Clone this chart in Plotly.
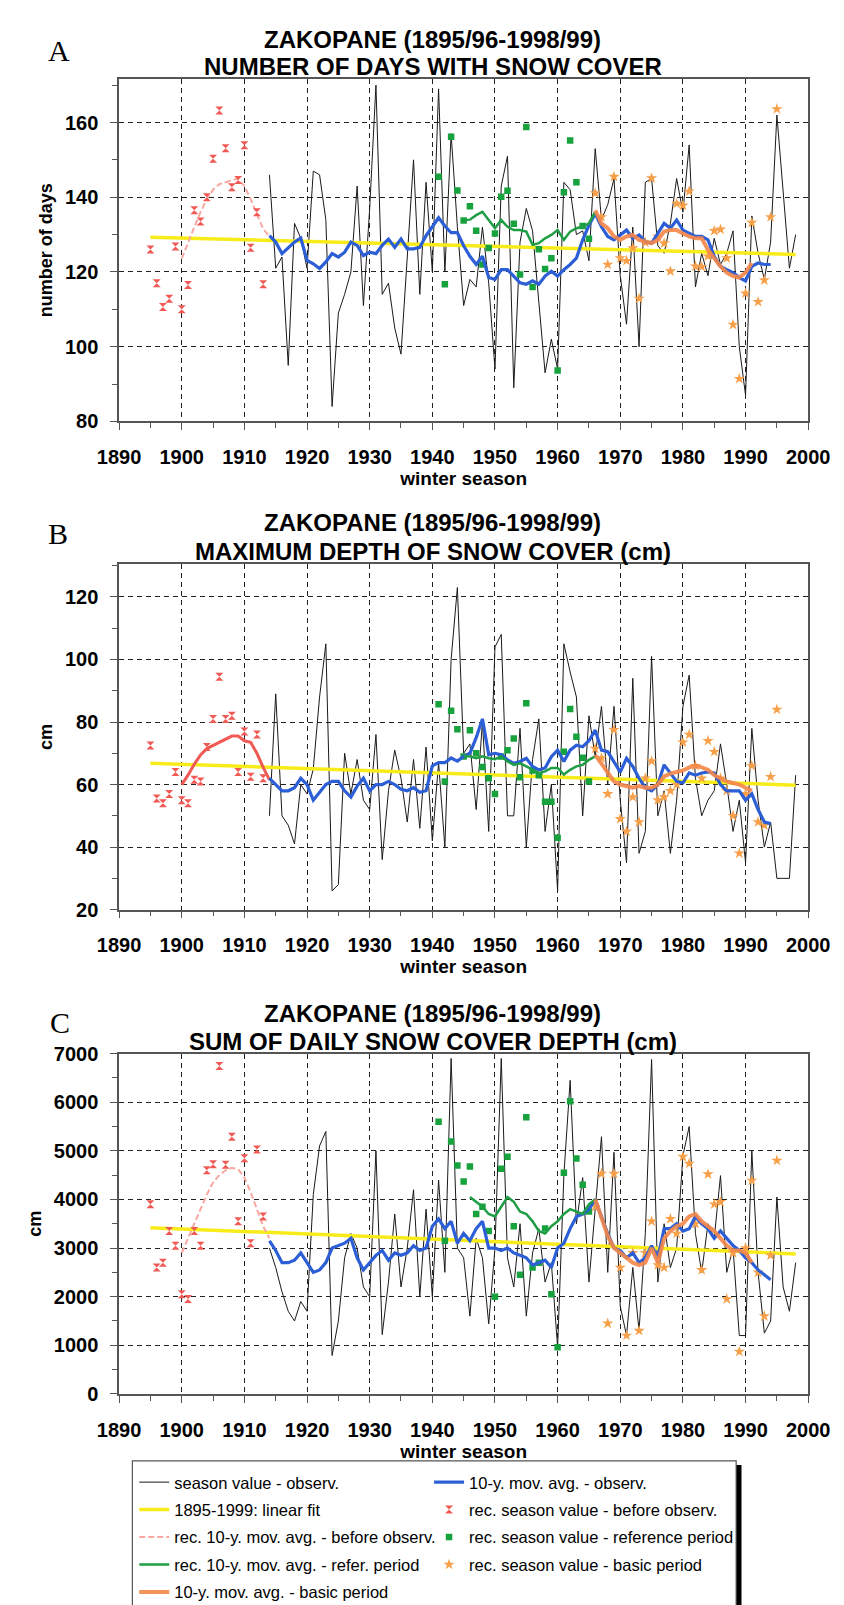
import plotly.graph_objects as go

# ---------------- categories (winter seasons) ----------------
yr_rec = list(range(1895, 1914))        # reconstructed before observations
yr_rec_ma = list(range(1900, 1915))
yr_obs = list(range(1914, 1999))        # observations
yr_obs_ma = list(range(1914, 1995))
yr_ref = list(range(1941, 1966))        # reference period
yr_ref_ma_ab = list(range(1945, 1967))
yr_ref_ma_c = list(range(1946, 1967))
yr_basic = list(range(1966, 1996))      # basic period
yr_basic_ma = list(range(1966, 1992))
yr_fit = [1895, 1998]

# ---------------- A: number of days with snow cover ----------------
A_rec = [126.0, 117.0, 110.6, 112.8, 126.8, 110.0, 116.5, 136.5, 133.5, 140.0,
         150.3, 163.2, 153.1, 142.7, 144.6, 153.9, 126.5, 136.0, 116.7]
A_rec_ma = [123.6, 128, 132, 136, 139.5, 142, 143.5, 144, 144.5, 145, 143, 139.5,
            135.5, 131.5, 129.5]
A_obs = [146, 121, 124, 95, 133, 129, 121, 147, 146, 134,
         84, 109, 114, 120, 143, 111, 137, 170, 114, 117,
         105, 98, 124, 150, 114, 144, 120, 169, 120, 157,
         132, 111, 118, 116, 132, 117, 94, 143, 151, 89,
         128, 137, 131, 112, 93, 102, 94, 144, 142, 130,
         131, 123, 153, 134, 138, 145, 119, 106, 132, 100,
         144, 145, 127, 125, 133, 145, 136, 154, 116, 125,
         119, 129, 122, 125, 131, 100, 87, 135, 125, 118,
         128, 162, 142, 121, 130]
A_obs_ma = [129.7, 128, 124.9, 126.6, 128, 129.1, 123.1, 122.2, 120.9, 122.7,
            124.9, 124, 125.3, 128, 127.1, 124.4, 125.3, 124.9, 127.1, 128.8,
            126.6, 128.8, 126.2, 126.2, 126.6, 129.7, 132.3, 134.5, 132.3, 130.5,
            130.5, 127, 124.2, 122, 124.2, 118.5, 118, 120.6, 120.6, 118.9,
            117.1, 116.7, 117.6, 116.7, 118.9, 120.2, 118.9, 120.6, 122, 123.7,
            128.6, 132.5, 135.6, 132.1, 129.5, 128.6, 129.9, 131.2, 129, 129.9,
            128.1, 127.7, 130.3, 133, 131.7, 133.9, 131.2, 130.3, 129.5, 129.5,
            128.6, 124.2, 121.5, 120.6, 119.8, 118.5, 117.6, 121.5, 122.4, 122, 122]
A_ref = [145.5, 116.7, 156.2, 141.8, 133.8, 137.6, 131, 122, 126.4, 130.3,
         140.1, 141.7, 132.9, 119.3, 158.8, 116, 126.1, 120.8, 123.7, 93.6,
         141.3, 155.2, 144, 132.3, 128.9]
A_ref_ma = [133.9, 134, 135.2, 136.1, 133.9, 131.7, 133.9, 132.1, 131.2, 131.2,
            130.8, 127.3, 127.7, 129, 129.9, 131.2, 128.6, 130.8, 131.7, 132.1,
            133, 136.1]
A_basic = [141.1, 134.7, 122, 145.5, 123.7, 123, 126.4, 112.9, 127.9, 145.1,
           129.5, 127.7, 120.2, 138.3, 137.8, 141.6, 121.5, 121.4, 124.2, 131,
           131.4, 123.7, 105.9, 91.4, 114.3, 133.2, 112, 117.8, 134.7, 163.6]
A_basic_ma = [136.5, 133, 131.7, 129.5, 128.6, 129.5, 129.9, 128.6, 128.1, 127.7,
              128.6, 130.8, 131.2, 131.2, 130.3, 129.5, 129, 129, 125.9, 123.7,
              121.5, 119.8, 118.9, 118.5, 119.8, 122.4]
A_fit = [129.3, 124.7]

# ---------------- B: maximum depth of snow cover ----------------
B_rec = [72.5, 55.5, 54, 57, 64, 55, 54, 61.5, 61, 72, 81, 94.5, 81, 82, 64, 77,
         62.5, 76, 62]
B_rec_ma = [60, 63, 66.5, 69.5, 71.5, 72.5, 73.5, 74.5, 75.5, 75.5, 74, 73.5, 70,
            65.5, 61.5]
B_obs = [50, 89, 50, 47, 41, 60, 57, 65, 88, 105,
         26, 28, 70, 57, 68, 55, 52, 76, 36, 58,
         71, 62, 48, 68, 46, 72, 42, 67, 40, 100,
         123, 70, 73, 52, 80, 45, 104, 108, 50, 50,
         78, 40, 68, 81, 45, 60, 26, 105, 96, 88,
         50, 82, 69, 85, 60, 85, 55, 35, 94, 38,
         45, 101, 50, 58, 38, 55, 85, 95, 62, 50,
         55, 58, 73, 60, 45, 55, 35, 78, 55, 40,
         48, 30, 30, 30, 63]
B_obs_ma = [62, 60, 58, 58, 59, 62, 60, 55, 57.5, 60,
            61, 61, 58, 56, 59.5, 62, 58, 60, 60, 61,
            60, 58.5, 58, 59, 57.5, 58, 66, 67, 67, 68.5,
            67.5, 69, 70, 75, 81, 69.5, 70, 69.5, 67.9, 66.8,
            67.4, 68.4, 65.8, 64.7, 65.3, 68.9, 71, 67.4, 71, 72.6,
            72.1, 74, 77.4, 71, 70.5, 67.4, 64, 68.4, 65.8, 62,
            59, 58, 60, 66.3, 63.7, 61, 60.5, 63.7, 63, 63.7,
            64, 63.7, 60, 58, 58, 58, 55, 57, 52, 48, 47.5]
B_ref = [85.7, 61, 83.6, 77.7, 69, 77.4, 70, 65.6, 62, 57, 69, 71, 74.7, 62.3, 86,
         64.5, 63, 54.5, 54.5, 43, 70.5, 84.2, 75.3, 68.6, 61]
B_ref_ma = [69.2, 69, 68.4, 69, 68.4, 68.1, 69, 67.4, 66.3, 66.8, 65.8, 64.7, 63.7,
            64.2, 65.3, 65.3, 63.2, 64.7, 65.8, 66.3, 67.9, 69]
B_basic = [71.5, 68.5, 57, 77.5, 49, 45, 56, 48, 62, 67.5, 55, 56, 58, 60, 73.5, 76,
           66, 62, 74, 70.5, 62, 58, 50, 38, 57, 66, 48, 47, 62.5, 84]
B_basic_ma = [69.5, 66.8, 63.7, 61, 60, 59.5, 59, 59.5, 59, 59, 60, 62.6, 63.5, 64,
              64.5, 65.5, 66, 65.5, 64.7, 63, 62, 61, 60.5, 60, 59, 58]
B_fit = [66.8, 59.8]

# ---------------- C: sum of daily snow cover depth ----------------
C_rec = [3900, 2600, 2700, 3350, 3050, 2050, 1950, 3350, 3050, 4600, 4725, 6746,
         4712, 5288, 3550, 4847, 3100, 5030, 3650]
C_rec_ma = [2900, 3200, 3500, 3800, 4100, 4350, 4500, 4600, 4650, 4620, 4450, 4150,
            3800, 3450, 3200]
C_obs = [3000, 2600, 2100, 1700, 1500, 1900, 1700, 4100, 5100, 5400,
         790, 1500, 2800, 3300, 3000, 2200, 2000, 5000, 1220, 2300,
         3700, 2200, 3000, 4200, 2000, 3800, 2000, 4400, 2500, 6900,
         3000, 2800, 1600, 3200, 2800, 1440, 3000, 6900, 2800, 2200,
         3500, 1600, 2900, 3400, 2300, 2700, 960, 4500, 6450, 3500,
         4450, 2300, 3800, 5290, 2500, 4970, 1800, 1200, 2600, 1300,
         3300, 6880, 2300, 3500, 2600, 3000, 4900, 5500, 3300, 2500,
         3500, 3200, 4490, 2500, 3000, 1200, 1200, 5000, 2500, 1250,
         1500, 4050, 2200, 1700, 2700]
C_obs_ma = [3150, 2950, 2700, 2700, 2750, 2900, 2700, 2500, 2550, 2700,
            3000, 3050, 3100, 3200, 2800, 2550, 2700, 2850, 2950, 2750,
            2900, 2850, 2900, 3050, 2950, 3000, 3450, 3600, 3400, 3550,
            3100, 3300, 3150, 3400, 3550, 3000, 3000, 2950, 3000, 2900,
            2850, 2800, 2650, 2700, 2750, 2600, 3000, 3100, 3400, 3650,
            3700, 3800, 4000, 3650, 3300, 3000, 2950, 2800, 2900, 2700,
            2800, 3050, 2800, 3400, 3400, 3500, 3350, 3400, 3650, 3500,
            3400, 3200, 3350, 3200, 3050, 2950, 2800, 2700, 2550, 2450, 2350]
C_ref = [5600, 3150, 5190, 4700, 4370, 4680, 3700, 3850, 3350, 2000, 4630, 4880,
         3450, 2450, 5690, 2600, 2700, 3400, 2050, 960, 4550, 6020, 4840, 4300, 3750]
C_ref_ma = [4050, 3950, 3850, 3700, 3650, 3850, 4050, 3950, 3750, 3700, 3550, 3350,
            3300, 3450, 3550, 3700, 3800, 3750, 3700, 3900, 4000]
C_basic = [3850, 4530, 1450, 4530, 2600, 1200, 2900, 1300, 2900, 3550, 2650, 2600,
           3600, 3300, 4880, 4740, 3500, 2550, 4520, 3900, 3950, 1950, 2900, 870,
           3000, 4390, 2500, 1600, 2850, 4800]
C_basic_ma = [4000, 3650, 3250, 3000, 2900, 2800, 2700, 2650, 2700, 3000, 2700, 3200,
              3350, 3450, 3500, 3650, 3700, 3550, 3450, 3350, 3200, 3050, 2950, 2950,
              2900, 2700]
C_fit = [3420, 2880]

# ---------------- text ----------------
title_line1 = "ZAKOPANE (1895/96-1998/99)"
panel_titles = ["NUMBER OF DAYS WITH SNOW COVER",
                "MAXIMUM DEPTH OF SNOW COVER (cm)",
                "SUM OF DAILY SNOW COVER DEPTH (cm)"]
panel_letters = ["A", "B", "C"]
y_titles = ["number of days", "cm", "cm"]
x_title = "winter season"

# ---------------- styling ----------------
W, H = 844, 1605
C_BLACK = "#1a1a1a"
C_YELLOW = "#F7EC1A"
C_BLUE = "#2C5FD6"
C_GREEN = "#1F9E45"
C_GREEN_SQ = "#17A23E"
C_ORANGE = "#F4874B"
C_ORANGE_PT = "#F7A049"
C_RED = "#F05A55"
C_RED_DASH = "#F7A8A0"
FONT = "Liberation Sans, Arial, sans-serif"


def px_x(x):
    return x / W


def px_y(y):
    return (H - y) / H


x_dom = [px_x(94), px_x(821)]
y_doms = [[px_y(408), px_y(61)], [px_y(903), px_y(553)], [px_y(1394), px_y(1049)]]
y_ranges = [[80, 171.6], [20, 130.4], [0, 7000]]
y_dticks = [20, 20, 1000]
y_minor = [10, 10, 500]

fig = go.Figure()

panels = [
    dict(rec=A_rec, rec_ma=A_rec_ma, obs=A_obs, obs_ma=A_obs_ma, ref=A_ref,
         ref_ma=A_ref_ma, ref_ma_yr=yr_ref_ma_ab, basic=A_basic, basic_ma=A_basic_ma,
         fit=A_fit, rec_dash=True),
    dict(rec=B_rec, rec_ma=B_rec_ma, obs=B_obs, obs_ma=B_obs_ma, ref=B_ref,
         ref_ma=B_ref_ma, ref_ma_yr=yr_ref_ma_ab, basic=B_basic, basic_ma=B_basic_ma,
         fit=B_fit, rec_dash=False),
    dict(rec=C_rec, rec_ma=C_rec_ma, obs=C_obs, obs_ma=C_obs_ma, ref=C_ref,
         ref_ma=C_ref_ma, ref_ma_yr=yr_ref_ma_c, basic=C_basic, basic_ma=C_basic_ma,
         fit=C_fit, rec_dash=True),
]

# left legend column -> "legend", right legend column -> "legend2"
for i, p in enumerate(panels):
    xa = "x" if i == 0 else f"x{i+1}"
    ya = "y" if i == 0 else f"y{i+1}"
    leg = (i == 0)

    def add(tr, group, legend, rank):
        tr.update(xaxis=xa, yaxis=ya, showlegend=leg, hoverinfo="skip",
                  legendgroup=group, legend=legend, legendrank=rank)
        fig.add_trace(tr)

    add(go.Scatter(x=yr_obs, y=p["obs"], mode="lines",
                   line=dict(color=C_BLACK, width=1),
                   name="season value - observ."), "g1", "legend", 1)
    add(go.Scatter(x=yr_fit, y=p["fit"], mode="lines",
                   line=dict(color=C_YELLOW, width=3.5),
                   name="1895-1999: linear fit"), "g2", "legend", 2)
    if p["rec_dash"]:
        rl = dict(color=C_RED_DASH, width=2, dash="6px,3px")
    else:
        rl = dict(color=C_RED, width=3)
    add(go.Scatter(x=yr_rec_ma, y=p["rec_ma"], mode="lines", line=rl,
                   name="rec. 10-y. mov. avg. - before observ."), "g3", "legend", 3)
    add(go.Scatter(x=yr_rec, y=p["rec"], mode="markers",
                   marker=dict(symbol="hourglass", size=8, color=C_RED),
                   name="rec. season value - before observ."), "g7", "legend2", 7)
    add(go.Scatter(x=yr_ref, y=p["ref"], mode="markers",
                   marker=dict(symbol="square", size=6.5, color=C_GREEN_SQ),
                   name="rec. season value - reference period"), "g8", "legend2", 8)
    add(go.Scatter(x=yr_basic, y=p["basic"], mode="markers",
                   marker=dict(symbol="star", size=8.5, color=C_ORANGE_PT),
                   name="rec. season value - basic period"), "g9", "legend2", 9)
    add(go.Scatter(x=yr_obs_ma, y=p["obs_ma"], mode="lines",
                   line=dict(color=C_BLUE, width=3.2),
                   name="10-y. mov. avg. - observ."), "g6", "legend2", 6)
    add(go.Scatter(x=p["ref_ma_yr"], y=p["ref_ma"], mode="lines",
                   line=dict(color=C_GREEN, width=2.5),
                   name="rec. 10-y. mov. avg. - refer. period"), "g4", "legend", 4)
    add(go.Scatter(x=yr_basic_ma, y=p["basic_ma"], mode="lines",
                   line=dict(color=C_ORANGE, width=4), opacity=0.9,
                   name="10-y. mov. avg. - basic period"), "g5", "legend", 5)

axis_line = "#555555"
tickfont = dict(family=FONT, size=20, color="black", weight="bold")
leg_common = dict(orientation="v", yanchor="top", xanchor="left",
                  bgcolor="rgba(0,0,0,0)", borderwidth=0,
                  font=dict(family=FONT, size=16.5, color="black"),
                  itemwidth=30, traceorder="grouped", tracegroupgap=3)
layout = dict(
    width=W, height=H,
    margin=dict(l=0, r=0, t=0, b=0),
    paper_bgcolor="white", plot_bgcolor="white",
    font=dict(family=FONT, color="black"),
    showlegend=True,
    legend=dict(x=px_x(110), y=px_y(1466), **leg_common),
    legend2=dict(x=px_x(421), y=px_y(1466), **leg_common),
)

for i in range(3):
    xk = "xaxis" if i == 0 else f"xaxis{i+1}"
    yk = "yaxis" if i == 0 else f"yaxis{i+1}"
    ya = "y" if i == 0 else f"y{i+1}"
    xa = "x" if i == 0 else f"x{i+1}"
    layout[xk] = dict(domain=x_dom, anchor=ya, range=[1890, 2000], tick0=1890, dtick=10,
                      showgrid=True, gridcolor="#222", griddash="5px,4px", gridwidth=1,
                      zeroline=False, showline=True, linecolor=axis_line, linewidth=1.5,
                      mirror=True, ticks="outside", ticklen=7, tickcolor=axis_line,
                      tickfont=tickfont, ticklabelstandoff=10,
                      minor=dict(dtick=5, ticks="outside", ticklen=5, tickcolor=axis_line,
                                 showgrid=False),
                      title=dict(text=x_title, standoff=2,
                                 font=dict(family=FONT, size=19, color="black", weight="bold")))
    layout[yk] = dict(domain=y_doms[i], anchor=xa, range=y_ranges[i],
                      tick0=y_ranges[i][0] if i < 2 else 0, dtick=y_dticks[i],
                      showgrid=True, gridcolor="#222", griddash="5px,4px", gridwidth=1,
                      zeroline=False, showline=True, linecolor=axis_line, linewidth=1.5,
                      mirror=True, ticks="outside", ticklen=7, tickcolor=axis_line,
                      tickfont=tickfont, ticklabelstandoff=8,
                      minor=dict(dtick=y_minor[i], ticks="outside", ticklen=5,
                                 tickcolor=axis_line, showgrid=False),
                      title=dict(text=y_titles[i], standoff=8,
                                 font=dict(family=FONT, size=18, color="black", weight="bold")))

fig.update_layout(**layout)

# titles and panel letters
title_y = [(21, 48), (511, 540), (1008, 1037)]
letter_pos = [(31, 32), (30, 522), (32, 1017)]
ann = []
for i in range(3):
    ann.append(dict(text=title_line1, x=px_x(425), y=px_y(title_y[i][0]), xref="paper", yref="paper",
                    showarrow=False, xanchor="center", yanchor="middle",
                    font=dict(family=FONT, size=24, color="black", weight="bold")))
    ann.append(dict(text=panel_titles[i], x=px_x(425), y=px_y(title_y[i][1]), xref="paper", yref="paper",
                    showarrow=False, xanchor="center", yanchor="middle",
                    font=dict(family=FONT, size=24, color="black", weight="bold")))
    ann.append(dict(text=panel_letters[i], x=px_x(letter_pos[i][0]), y=px_y(letter_pos[i][1]),
                    xref="paper", yref="paper", showarrow=False, xanchor="center", yanchor="middle",
                    font=dict(family="Liberation Serif, Times New Roman, serif", size=30, color="black")))
fig.update_layout(annotations=ann)

# legend frame and its shadow on the right edge
fig.add_shape(type="rect", xref="paper", yref="paper", layer="below",
              x0=px_x(108), x1=px_x(745), y0=px_y(1610), y1=px_y(1462),
              line=dict(color="#555", width=1.2), fillcolor="white")
fig.add_shape(type="line", xref="paper", yref="paper",
              x0=px_x(748), x1=px_x(748), y0=px_y(1466), y1=px_y(1610),
              line=dict(color="black", width=5))

fig.write_html("out.html")
